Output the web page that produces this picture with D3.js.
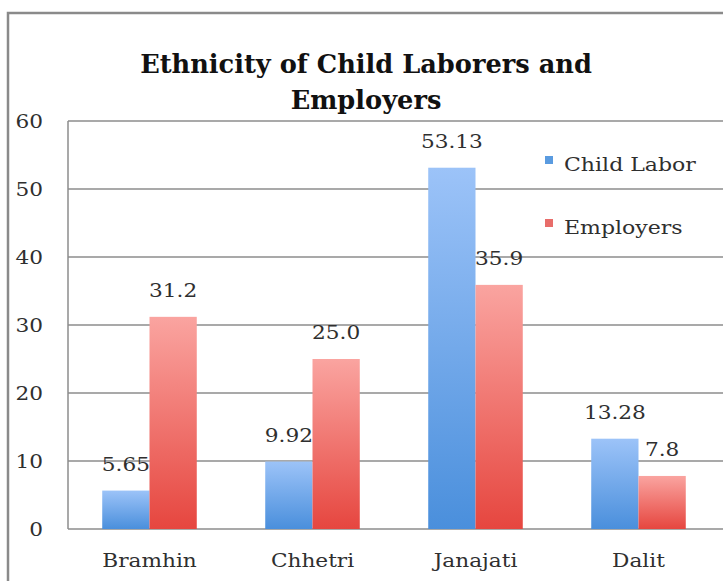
<!DOCTYPE html>
<html>
<head>
<meta charset="utf-8">
<script src="https://cdn.jsdelivr.net/npm/d3@7"></script>
<style>
  html, body { margin: 0; padding: 0; background: #fff; }
  svg { display: block; }
</style>
</head>
<body>
<svg id="chart" width="723" height="581"></svg>
<script>
// Chart data
const categories = ["Bramhin", "Chhetri", "Janajati", "Dalit"];
const childLabor = [5.65, 9.92, 53.13, 13.28];
const employers = [31.2, 25.0, 35.9, 7.8];
const seriesNames = ["Child Labor", "Employers"];
const yTicks = [0, 10, 20, 30, 40, 50, 60];
const titleLines = ["Ethnicity of Child Laborers and", "Employers"];

const W = 723, H = 581;
const plot = { left: 68, right: 720, top: 121, bottom: 529 };
const FONT = "'DejaVu Serif', 'Liberation Serif', serif";
const SX = 1.14;           // horizontal stretch of the serif text
const textColor = "#2f2f2f";

const svg = d3.select("#chart");

// gradients for the bars
const defs = svg.append("defs");
function vGrad(id, top, bottom) {
  const g = defs.append("linearGradient").attr("id", id)
    .attr("x1", 0).attr("y1", 0).attr("x2", 0).attr("y2", 1);
  g.append("stop").attr("offset", "0%").attr("stop-color", top);
  g.append("stop").attr("offset", "100%").attr("stop-color", bottom);
}
vGrad("gBlue", "#9cc3f8", "#4a8fdc");
vGrad("gRed", "#faa4a0", "#e6463f");
const fills = ["url(#gBlue)", "url(#gRed)"];
const swatch = ["#5a9be0", "#e86d6a"];

// outer chart frame
svg.append("rect")
  .attr("x", 8).attr("y", 13).attr("width", W + 20).attr("height", H + 20)
  .attr("fill", "#fff").attr("stroke", "#8a8a8a").attr("stroke-width", 2.5);

// scales
const x0 = d3.scaleBand().domain(categories)
  .range([plot.left, plot.right]).paddingInner(0.42).paddingOuter(0.21);
const x1 = d3.scaleBand().domain(seriesNames).range([0, x0.bandwidth()]);
const y = d3.scaleLinear().domain([0, 60]).range([plot.bottom, plot.top]);

// stretched text helper
function stretchedText(parent, x, yy, str, opts = {}) {
  return parent.append("text")
    .attr("transform", `translate(${x},${yy}) scale(${opts.sx || SX},1)`)
    .attr("text-anchor", opts.anchor || "middle")
    .attr("font-family", FONT)
    .attr("font-size", opts.size || 19)
    .attr("font-weight", opts.weight || "normal")
    .attr("fill", opts.fill || textColor)
    .text(str);
}

// gridlines
svg.append("g").selectAll("line").data(yTicks).join("line")
  .attr("x1", plot.left).attr("x2", W)
  .attr("y1", d => y(d)).attr("y2", d => y(d))
  .attr("stroke", "#8c8c8c").attr("stroke-width", 1.5);
// left edge of plot area
svg.append("line")
  .attr("x1", plot.left).attr("x2", plot.left)
  .attr("y1", y(60)).attr("y2", y(0))
  .attr("stroke", "#8c8c8c").attr("stroke-width", 1.5);

// y tick labels
const yAxisG = svg.append("g");
yTicks.forEach(t => stretchedText(yAxisG, 43, y(t) + 7, String(t), { anchor: "end" }));

// bars
const series = [childLabor, employers];
const barsG = svg.append("g");
series.forEach((vals, si) => {
  barsG.selectAll(null).data(vals).join("rect")
    .attr("x", (d, i) => x0(categories[i]) + x1(seriesNames[si]))
    .attr("width", x1.bandwidth())
    .attr("y", d => y(d))
    .attr("height", d => y(0) - y(d))
    .attr("fill", fills[si]);
});

// value labels
const fmt = [d3.format(".2f"), d3.format(".1f")];
const labG = svg.append("g");
series.forEach((vals, si) => {
  vals.forEach((v, i) => {
    const cx = x0(categories[i]) + x1(seriesNames[si]) + x1.bandwidth() / 2;
    stretchedText(labG, cx, y(v) - 20, fmt[si](v));
  });
});

// category labels
const catG = svg.append("g");
categories.forEach(c => stretchedText(catG, x0(c) + x0.bandwidth() / 2, 567, c));

// legend
const legG = svg.append("g");
seriesNames.forEach((name, i) => {
  const ly = 160 + i * 63;
  legG.append("rect").attr("x", 545).attr("y", ly - 4).attr("width", 8).attr("height", 8)
    .attr("fill", swatch[i]);
  stretchedText(legG, 564, ly + 11, name, { anchor: "start", sx: 1.16 });
});

// title: condensed bold serif, stretched so the first line spans the header width
const titleG = svg.append("g");
const titleNodes = titleLines.map((line, i) =>
  titleG.append("text")
    .attr("text-anchor", "middle")
    .attr("font-family", FONT)
    .attr("font-stretch", "condensed")
    .attr("font-size", 26)
    .attr("font-weight", "bold")
    .attr("fill", "#111")
    .text(line));
const titleWidth = 452;
const tsx = titleWidth / titleNodes[0].node().getComputedTextLength();
titleNodes.forEach((t, i) =>
  t.attr("transform", `translate(366,${73 + i * 36}) scale(${tsx},1)`));
</script>
</body>
</html>
